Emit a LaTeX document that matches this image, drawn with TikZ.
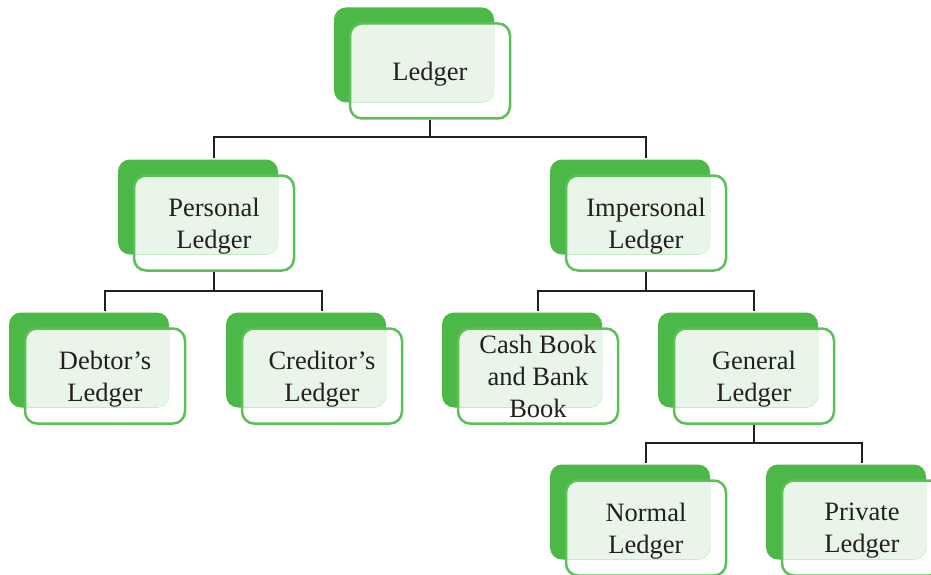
\documentclass[tikz,border=0pt]{standalone}
\usepackage{fontspec}
\setmainfont{Liberation Serif}
\usepackage{tikz}
\usetikzlibrary{positioning}
\definecolor{leafgreen}{RGB}{76,184,72}
\definecolor{rimgreen}{RGB}{92,192,88}
\definecolor{palegreen}{RGB}{233,245,232}
\definecolor{inkgray}{RGB}{35,31,32}

\begin{document}
\begin{tikzpicture}[x=1pt,y=-1pt]
\tikzstyle{ledger}=[draw=rimgreen, line width=2.5pt, rounded corners=12pt,
  minimum width=160pt, minimum height=95pt, align=center, text=inkgray,
  font=\fontsize{26.5}{32}\selectfont, text depth=0pt,
  preaction={fill=leafgreen, transform canvas={xshift=-16pt,yshift=16pt}},
  path picture={\fill[palegreen, rounded corners=12pt]
    ([xshift=-16pt,yshift=16pt]path picture bounding box.south west) rectangle
    ([xshift=-16pt,yshift=16pt]path picture bounding box.north east);}]
\tikzstyle{link}=[line width=2.3pt, draw=inkgray]
\useasboundingbox (0,0) rectangle (931,575);
% top
\node[ledger] (ledger) at (430,71) {Ledger};
% second row
\node[ledger] (personal) at (214,223) {Personal\\Ledger};
\node[ledger] (impersonal) at (646,223) {Impersonal\\Ledger};
% third row
\node[ledger] (debtor) at (105,376) {Debtor's\\Ledger};
\node[ledger] (creditor) at (322,376) {Creditor's\\Ledger};
\node[ledger] (cashbank) at (538,376) {Cash Book\\and Bank\\Book};
\node[ledger] (general) at (754,376) {General\\Ledger};
% bottom row
\node[ledger] (normal) at (646,528) {Normal\\Ledger};
\node[ledger] (private) at (862,528) {Private\\Ledger};
% connectors
\coordinate (bar1) at (430,137);
\coordinate (bar2) at (214,291);
\coordinate (bar3) at (646,291);
\coordinate (bar4) at (754,443);
\draw[link] (ledger.south) -- (bar1);
\draw[link] ([yshift=16pt]personal.north) |- (bar1) -| ([yshift=16pt]impersonal.north);
\draw[link] (personal.south) -- (bar2);
\draw[link] ([yshift=16pt]debtor.north) |- (bar2) -| ([yshift=16pt]creditor.north);
\draw[link] (impersonal.south) -- (bar3);
\draw[link] ([yshift=16pt]cashbank.north) |- (bar3) -| ([yshift=16pt]general.north);
\draw[link] (general.south) -- (bar4);
\draw[link] ([yshift=16pt]normal.north) |- (bar4) -| ([yshift=16pt]private.north);
\end{tikzpicture}
\end{document}
